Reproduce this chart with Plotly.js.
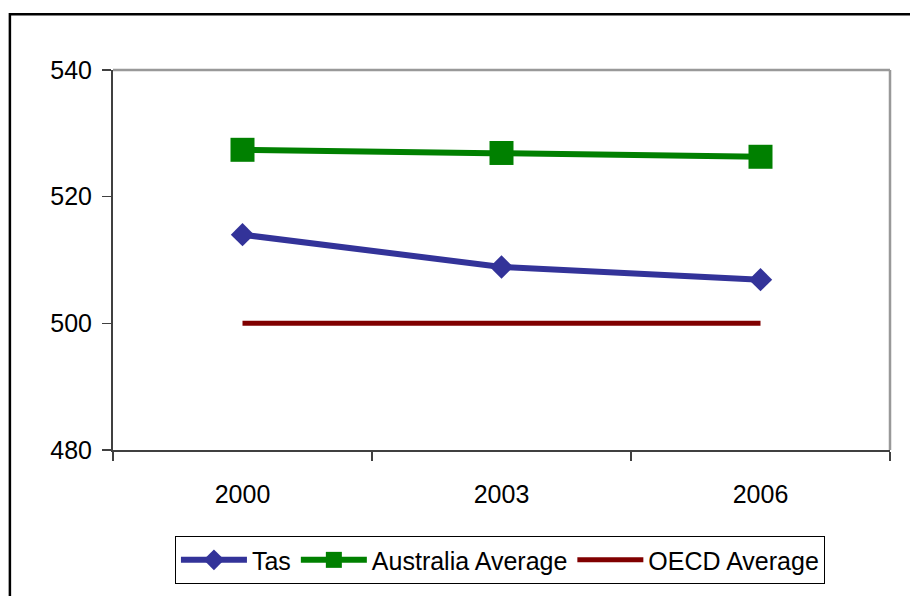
<!DOCTYPE html>
<html>
<head>
<meta charset="utf-8">
<script src="https://cdn.plot.ly/plotly-3.0.1.min.js"></script>
<style>
  html, body { margin: 0; padding: 0; background: #fff; }
  #chart { width: 910px; height: 596px; }
</style>
</head>
<body>
<div id="chart"></div>
<script>
// Survey years on the category axis
var years = ['2000', '2003', '2006'];

// Mean scores per year
var tasScores = [514.0, 508.9, 506.9];
var australiaScores = [527.4, 526.9, 526.3];
var oecdScores = [500, 500, 500];

// Y axis ticks
var yTicks = [480, 500, 520, 540];

var FONT = 'Liberation Sans, Arial, sans-serif';

var traces = [
  {
    x: years, y: tasScores, name: 'Tas', type: 'scatter', mode: 'lines+markers',
    line: { color: '#333399', width: 6 },
    marker: { symbol: 'diamond', size: 18, color: '#333399' }
  },
  {
    x: years, y: australiaScores, name: 'Australia Average', type: 'scatter', mode: 'lines+markers',
    line: { color: '#008000', width: 6 },
    marker: { symbol: 'square', size: 24, color: '#008000' }
  },
  {
    x: years, y: oecdScores, name: 'OECD Average', type: 'scatter', mode: 'lines',
    line: { color: '#800000', width: 5 }
  }
];

var layout = {
  width: 910, height: 596,
  margin: { l: 113, r: 20, t: 70, b: 142 },
  paper_bgcolor: '#fff', plot_bgcolor: '#fff',
  font: { family: FONT, size: 25, color: '#000' },
  showlegend: true,
  xaxis: {
    type: 'category', categoryorder: 'array', categoryarray: years,
    range: [-0.5, 2.5], tickson: 'boundaries',
    ticks: 'outside', ticklen: 9, tickwidth: 1.5, tickcolor: '#404040',
    showline: true, linecolor: '#404040', linewidth: 2,
    showgrid: false, zeroline: false, fixedrange: true,
    ticklabelstandoff: 21,
    tickfont: { family: FONT, size: 25, color: '#000' }
  },
  yaxis: {
    range: [480, 540], tickvals: yTicks,
    ticks: 'outside', ticklen: 9, tickwidth: 1.5, tickcolor: '#404040',
    showline: true, linecolor: '#404040', linewidth: 2,
    showgrid: false, zeroline: false, fixedrange: true,
    ticklabelstandoff: 5,
    tickfont: { family: FONT, size: 25, color: '#000' }
  },
  legend: {
    orientation: 'h', x: 0.498, xanchor: 'center', y: -0.2266, yanchor: 'top',
    bordercolor: '#000', borderwidth: 1, bgcolor: '#fff',
    itemwidth: 66, tracegroupgap: 0,
    font: { family: FONT, size: 25, color: '#000' }
  },
  shapes: [
    // grey top and right edges of the plotting area
    { type: 'line', xref: 'paper', yref: 'paper', x0: 0, x1: 1, y0: 1, y1: 1,
      line: { color: '#999999', width: 2.5 } },
    { type: 'line', xref: 'paper', yref: 'paper', x0: 1, x1: 1, y0: 0, y1: 1,
      line: { color: '#999999', width: 2.5 } },
    // outer chart frame
    { type: 'rect', xref: 'paper', yref: 'paper', x0: -0.1327, x1: 1.3, y0: -1, y1: 1.1466,
      line: { color: '#000', width: 2.5 }, layer: 'below' }
  ]
};

Plotly.newPlot('chart', traces, layout, { staticPlot: true, displayModeBar: false });
</script>
</body>
</html>
